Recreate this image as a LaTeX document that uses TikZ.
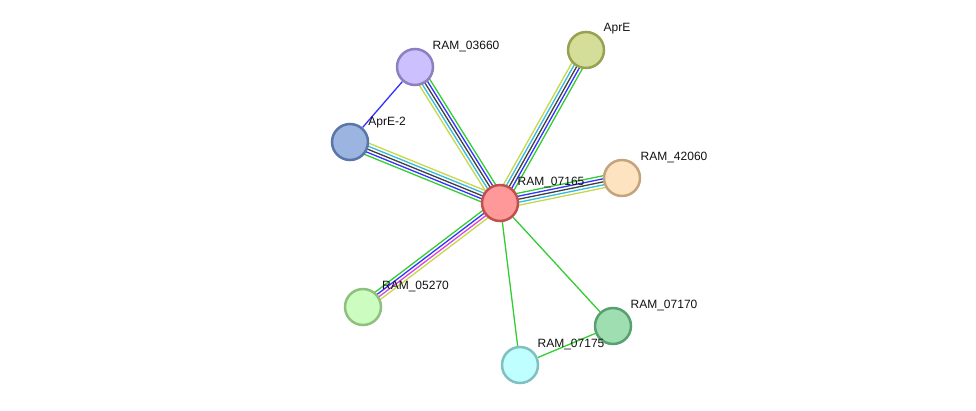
\documentclass[tikz,border=0pt]{standalone}
\usepackage{fontspec}
\setmainfont{Liberation Sans}
\usetikzlibrary{calc,backgrounds}
\definecolor{eGreen}{HTML}{33CC33}
\definecolor{eBlue}{HTML}{3333FF}
\definecolor{eGray}{HTML}{404040}
\definecolor{eCyan}{HTML}{33BBDD}
\definecolor{eYellow}{HTML}{C6D84A}
\definecolor{eMag}{HTML}{DD44DD}
\definecolor{txt}{HTML}{111111}
\tikzset{
  prot/.style={circle, minimum size=36pt, inner sep=0pt, line width=2.5pt},
  lbl/.style={anchor=base, inner sep=0pt, font=\fontsize{12pt}{14pt}\selectfont, text=txt},
  elink/.style={line width=1.3pt},
}
\newcommand{\medge}[3]{%
  \foreach \o/\c in {#3}{%
    \draw[elink, draw=\c] ($(#1.center)!\o pt!90:(#2.center)$) -- ($(#2.center)!\o pt!-90:(#1.center)$);
  }%
}
\begin{document}
\begin{tikzpicture}[x=1pt,y=-1pt]
\useasboundingbox (0,0) rectangle (976,410);
% nodes
\node[prot, fill={rgb,255:red,255;green,153;blue,153}, draw={rgb,255:red,192;green,80;blue,80}] (n07165) at (500,203) {};
\node[prot, fill={rgb,255:red,204;green,192;blue,255}, draw={rgb,255:red,142;green,128;blue,192}] (n03660) at (415,67) {};
\node[prot, fill={rgb,255:red,212;green,222;blue,152}, draw={rgb,255:red,152;green,160;blue,82}] (aprE) at (586,50) {};
\node[prot, fill={rgb,255:red,155;green,180;blue,224}, draw={rgb,255:red,90;green,117;blue,168}] (aprE2) at (350,142) {};
\node[prot, fill={rgb,255:red,254;green,227;blue,192}, draw={rgb,255:red,196;green,164;blue,124}] (n42060) at (622,178) {};
\node[prot, fill={rgb,255:red,204;green,252;blue,192}, draw={rgb,255:red,142;green,192;blue,126}] (n05270) at (363,307) {};
\node[prot, fill={rgb,255:red,158;green,222;blue,176}, draw={rgb,255:red,88;green,160;blue,112}] (n07170) at (613,326) {};
\node[prot, fill={rgb,255:red,191;green,255;blue,255}, draw={rgb,255:red,128;green,192;blue,192}] (n07175) at (520,365) {};
% edges
\begin{scope}[on background layer]
\medge{n07165}{aprE}{6/eYellow,3/eCyan,0/eGray,-3/eBlue,-6/eGreen}
\medge{n07165}{n03660}{6/eYellow,3/eCyan,0/eGray,-3/eBlue,-6/eGreen}
\medge{n07165}{aprE2}{6/eGreen,3/eBlue,0/eGray,-3/eCyan,-6/eYellow}
\medge{n07165}{n42060}{6/eGreen,3/eBlue,0/eGray,-3/eCyan,-6/eYellow}
\medge{n07165}{n05270}{4.5/eYellow,1.5/eMag,-1.5/eBlue,-4.5/eGreen}
\draw[elink, draw=eGreen] (n07165) -- (n07170);
\draw[elink, draw=eGreen] (n07165) -- (n07175);
\draw[elink, draw=eGreen] (n07170) -- (n07175);
\draw[elink, draw=eBlue] (n03660) -- (aprE2);
\end{scope}
% labels
\node[lbl] (l03660) at (466,49.5) {RAM\_03660};
\node[lbl] (laprE) at (617,31.5) {AprE};
\node[lbl] (laprE2) at (387,125.5) {AprE-2};
\node[lbl] (l42060) at (674,160.5) {RAM\_42060};
\node[lbl] (l07165) at (551,185.5) {RAM\_07165};
\node[lbl] (l05270) at (415.5,289.5) {RAM\_05270};
\node[lbl] (l07170) at (664,308.5) {RAM\_07170};
\node[lbl] (l07175) at (571,347.5) {RAM\_07175};
\end{tikzpicture}
\end{document}
